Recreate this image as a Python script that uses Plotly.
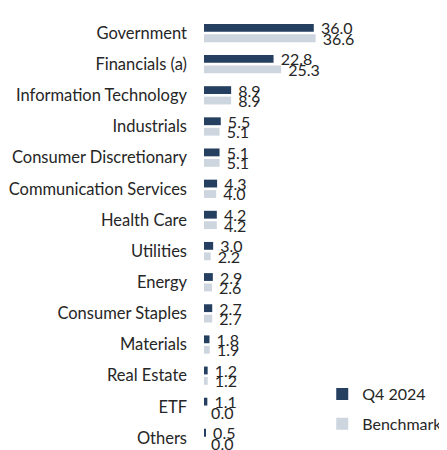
import plotly.graph_objects as go

categories = ["Government", "Financials (a)", "Information Technology", "Industrials",
              "Consumer Discretionary", "Communication Services", "Health Care", "Utilities",
              "Energy", "Consumer Staples", "Materials", "Real Estate", "ETF", "Others"]
q4_2024 = [36.0, 22.8, 8.9, 5.5, 5.1, 4.3, 4.2, 3.0, 2.9, 2.7, 1.8, 1.2, 1.1, 0.5]
benchmark = [36.6, 25.3, 8.9, 5.1, 5.1, 4.0, 4.2, 2.2, 2.6, 2.7, 1.9, 1.2, 0.0, 0.0]

FONT = "Lato"
TXT = "#262626"

fig = go.Figure()
fig.add_trace(go.Bar(
    name="Q4 2024", y=categories, x=q4_2024, orientation="h",
    marker=dict(color="#243F60", line=dict(width=0)),
    text=[f"\u00a0{v:.1f}" for v in q4_2024], textposition="outside",
    textfont=dict(family=FONT, size=16, color=TXT), cliponaxis=False,
    constraintext="none", legendgroup="a",
))
fig.add_trace(go.Bar(
    name="Benchmark", y=categories, x=benchmark, orientation="h",
    marker=dict(color="#CDD5DF", line=dict(width=0)),
    text=[f"\u00a0{v:.1f}" for v in benchmark], textposition="outside",
    textfont=dict(family=FONT, size=16, color=TXT), cliponaxis=False,
    constraintext="none", legendgroup="b",
))

fig.update_layout(
    width=447, height=450,
    margin=dict(l=196, r=0, t=0, b=0, autoexpand=False),
    paper_bgcolor="white", plot_bgcolor="white",
    barmode="group", bargap=0.33, bargroupgap=0.25,
    font=dict(family=FONT, size=16, color=TXT),
    showlegend=True,
    legend=dict(xref="container", yref="container", x=0.703, y=0.18,
                xanchor="left", yanchor="top", font=dict(family=FONT, size=16, color=TXT),
                tracegroupgap=6, itemwidth=30, bgcolor="rgba(0,0,0,0)"),
)
fig.update_xaxes(range=[0, 82.3], showgrid=False, zeroline=False, showticklabels=False,
                 showline=False, fixedrange=True, automargin=False)
fig.update_yaxes(range=[13.642, -0.803], showgrid=False, zeroline=False, showline=False,
                 automargin=False, ticks="", ticklabelstandoff=16,
                 tickfont=dict(family=FONT, size=16.5, color=TXT))

fig.write_html("out.html")
